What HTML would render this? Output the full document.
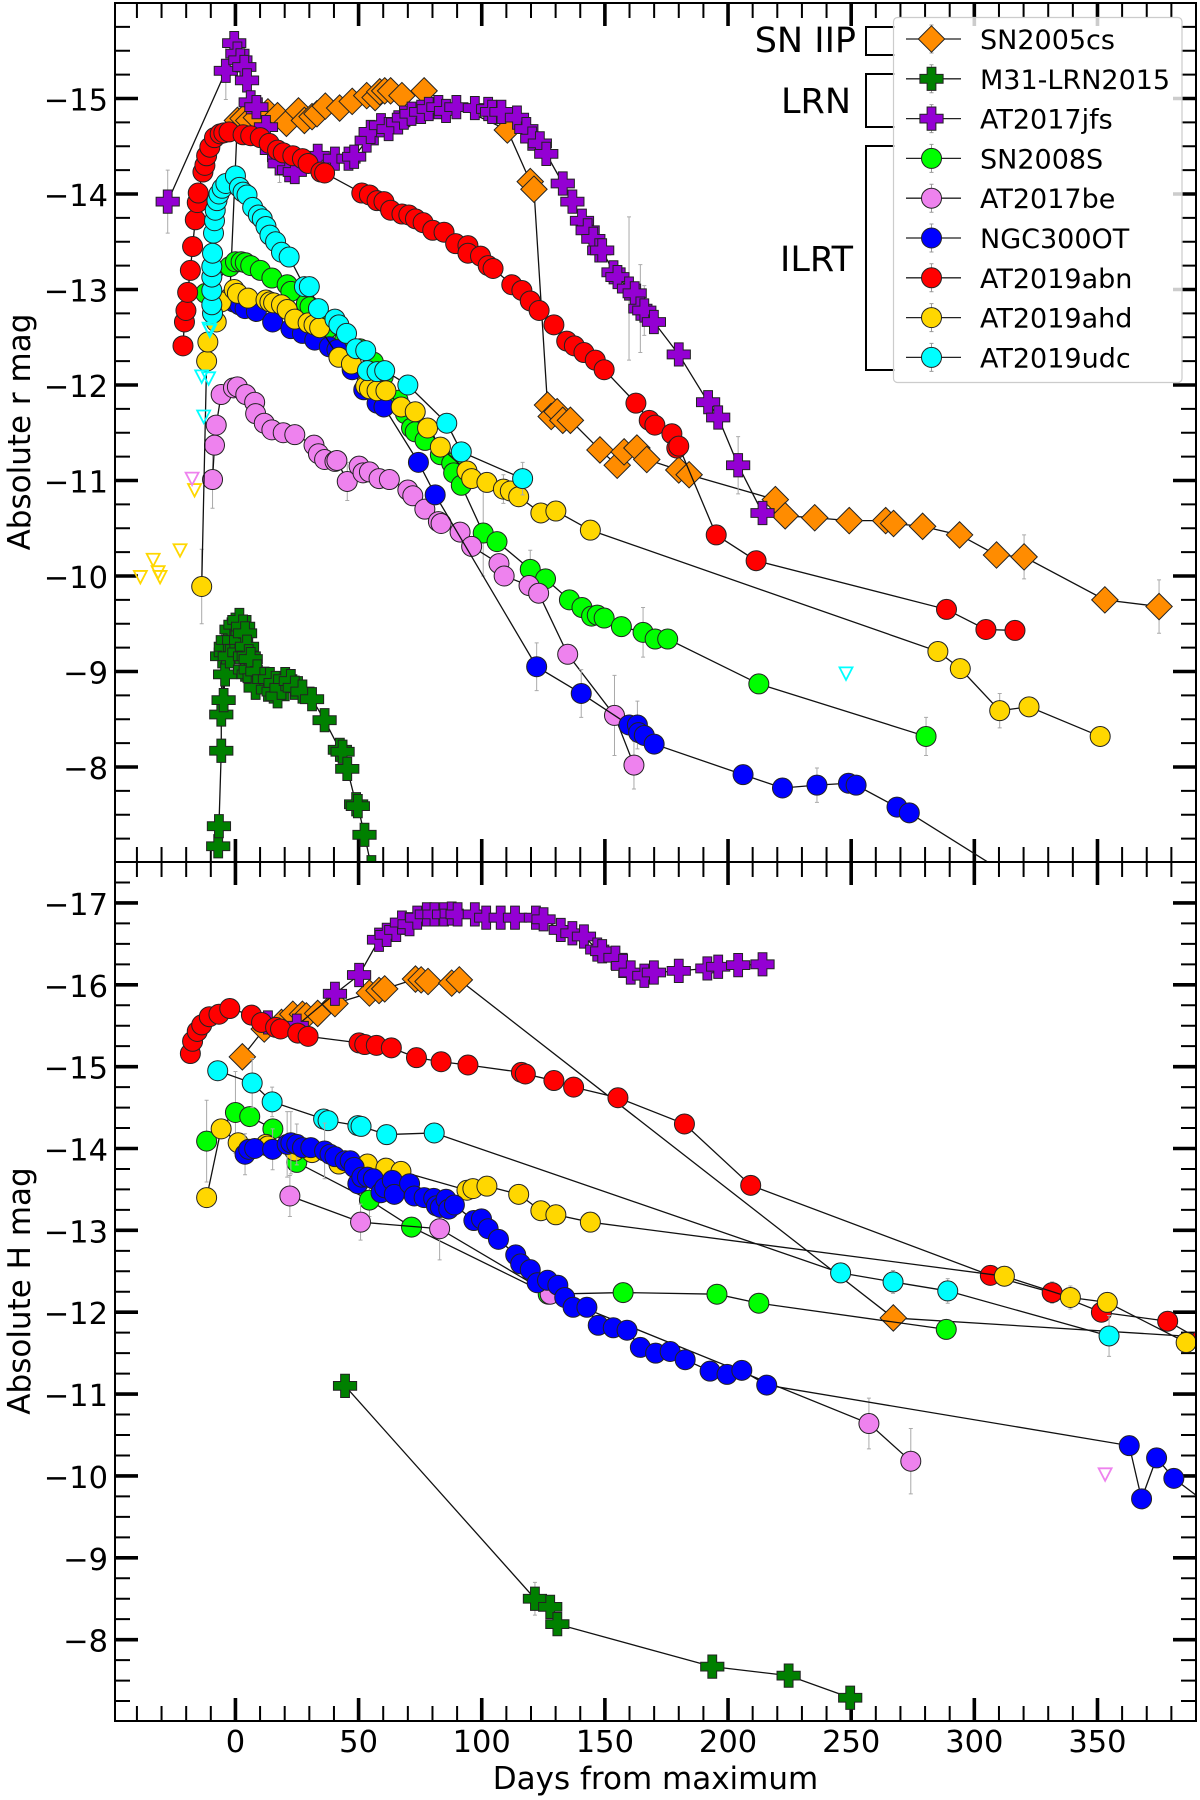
<!DOCTYPE html>
<html lang="en">
<head>
<meta charset="utf-8">
<title>Absolute r and H light curves</title>
<style>
html,body{margin:0;padding:0;background:#fff;width:1200px;height:1800px;overflow:hidden}
svg{display:block}
text{font-family:"DejaVu Sans","Liberation Sans",sans-serif;fill:#000}
</style>
</head>
<body>
<svg id="chart" xmlns="http://www.w3.org/2000/svg" width="1200" height="1800" viewBox="0 0 1200 1800">
<defs>
<clipPath id="clip-r"><rect x="115" y="3" width="1081" height="859"/></clipPath>
<clipPath id="clip-h"><rect x="115" y="862" width="1081" height="859"/></clipPath>
</defs>
<g id="axes-r-ticks"></g>
<g id="axes-h-ticks"></g>
<g id="series-r" clip-path="url(#clip-r)"></g>
<g id="series-h" clip-path="url(#clip-h)"></g>
<rect x="115" y="3" width="1081" height="859" fill="none" stroke="#000" stroke-width="2"/>
<rect x="115" y="862" width="1081" height="859" fill="none" stroke="#000" stroke-width="2"/>
<text x="30" y="432" transform="rotate(-90 30 432)" text-anchor="middle" font-size="31">Absolute r mag</text>
<text x="30" y="1291" transform="rotate(-90 30 1291)" text-anchor="middle" font-size="31">Absolute H mag</text>
<text x="655.5" y="1789" text-anchor="middle" font-size="31">Days from maximum</text>
<text x="856" y="52" text-anchor="end" font-size="35">SN IIP</text>
<text x="851" y="113" text-anchor="end" font-size="35">LRN</text>
<text x="853" y="271" text-anchor="end" font-size="35">ILRT</text>
<path d="M895 27H866V55H895" fill="none" stroke="#000" stroke-width="2"/>
<path d="M895 74H866V127H895" fill="none" stroke="#000" stroke-width="2"/>
<path d="M895 146H866V370H895" fill="none" stroke="#000" stroke-width="2"/>
<g id="legend"></g>
</svg>
<script>
// ---- tick values ----
const xMajorTicks = [0,50,100,150,200,250,300,350];
const xMinorTicks = [-40,-30,-20,-10,10,20,30,40,60,70,80,90,110,120,130,140,160,170,180,190,210,220,230,240,260,270,280,290,310,320,330,340,360,370,380];
const rMajorTicks = [-15,-14,-13,-12,-11,-10,-9,-8];
const rMinorTicks = [-15.75,-15.5,-15.25,-14.75,-14.5,-14.25,-13.75,-13.5,-13.25,-12.75,-12.5,-12.25,-11.75,-11.5,-11.25,-10.75,-10.5,-10.25,-9.75,-9.5,-9.25,-8.75,-8.5,-8.25,-7.75,-7.5,-7.25];
const hMajorTicks = [-17,-16,-15,-14,-13,-12,-11,-10,-9,-8];
const hMinorTicks = [-17.25,-16.75,-16.5,-16.25,-15.75,-15.5,-15.25,-14.75,-14.5,-14.25,-13.75,-13.5,-13.25,-12.75,-12.5,-12.25,-11.75,-11.5,-11.25,-10.75,-10.5,-10.25,-9.75,-9.5,-9.25,-8.75,-8.5,-8.25,-7.75,-7.5,-7.25];
const legendLabels = ["SN2005cs","M31-LRN2015","AT2017jfs","SN2008S","AT2017be","NGC300OT","AT2019abn","AT2019ahd","AT2019udc"];

// ---- r band data ----
const rDaysSN2005cs = [-2.3,0.8,3.1,5.4,8.5,13.2,17.1,20.7,25.6,28,31.1,33.1,36.5,42.3,47.4,53.3,56.7,58.6,60.6,63,67.6,76.6,110.4,119.7,121.2,126.7,128.2,130.6,132.9,136,148,155,157.8,163,167,180,184.2,219.2,223.2,235.2,249.2,264,267.2,279,294,309,320.2,353,375];
const rMagsSN2005cs = [-12.92,-14.77,-14.79,-14.77,-14.8,-14.86,-14.82,-14.74,-14.87,-14.77,-14.81,-14.84,-14.92,-14.9,-14.97,-15.03,-15.01,-15.07,-15.08,-15.08,-15.03,-15.08,-14.67,-14.13,-14.05,-11.79,-11.67,-11.72,-11.63,-11.63,-11.32,-11.16,-11.3,-11.34,-11.22,-11.11,-11.06,-10.8,-10.63,-10.61,-10.58,-10.58,-10.55,-10.52,-10.43,-10.22,-10.2,-9.75,-9.68];
const rDaysM31 = [-7,-6.7,-5.75,-5.75,-5.4,-4.8,-4.2,-3.9,-3.9,-3.1,-2.3,-1.6,-0.5,0,1.6,1.6,2.3,3.1,3.9,3.9,3.9,4.7,5.4,5.4,6.2,6.2,7.8,8.2,8.9,11.7,13.2,14,15.5,16.3,17.1,18.7,20.2,22.5,24.1,27.2,31.1,36.2,42.4,43.5,45.4,49,49.7,52.4,55.2];
const rMagsM31 = [-7.17,-7.38,-8.17,-8.55,-9.16,-8.7,-8.97,-9.2,-9.26,-9.33,-9.16,-9.44,-9.33,-9.49,-9.54,-9.2,-9.33,-9.47,-9.4,-9.16,-9.02,-9.26,-9.16,-8.97,-9.02,-9.13,-8.93,-8.83,-9,-8.92,-8.81,-8.92,-8.79,-8.88,-8.74,-8.83,-8.92,-8.9,-8.83,-8.79,-8.71,-8.49,-8.18,-8.16,-7.98,-7.61,-7.59,-7.29,-6.95];
const rDaysJfs = [-27.5,-3.9,-0.5,0.8,2,3.6,4.7,6.2,8.5,12.4,14.8,17.9,21.8,24.1,33.4,40.4,45.9,48.2,53.3,54.9,59.1,62.2,66.1,68.4,71.5,75.4,78.5,82.4,85.5,89.7,97.2,102.6,104.2,108,114.3,118.1,120.5,123.6,126.2,132.9,136.8,140.7,143,145.3,147.7,148.9,153.5,155.1,159.8,162.1,164.4,166,169.9,180,191.9,196,204.1,214];
const rMagsJfs = [-13.92,-15.29,-15.58,-15.47,-15.4,-15.33,-15.19,-14.96,-14.91,-14.7,-14.46,-14.32,-14.25,-14.23,-14.4,-14.37,-14.37,-14.39,-14.56,-14.65,-14.72,-14.68,-14.75,-14.8,-14.84,-14.86,-14.89,-14.91,-14.87,-14.91,-14.9,-14.89,-14.86,-14.86,-14.8,-14.68,-14.58,-14.53,-14.42,-14.11,-13.92,-13.72,-13.62,-13.53,-13.41,-13.41,-13.18,-13.13,-13.01,-12.96,-12.8,-12.78,-12.66,-12.32,-11.82,-11.66,-11.16,-10.66];
const rDays08S = [-12.1,-2.3,0,2.3,4,6.2,10.1,14.8,21,22.5,28.8,30.3,35,37.3,44.3,50.5,56,60,66,69,71.5,73,77,83.2,87.8,88.6,91.7,100.6,106.2,119.7,125.9,135.6,140.7,144.6,146.9,149.7,156.7,165.5,170.4,175.5,212.5,280.4];
const rMags08S = [-12.96,-13.24,-13.29,-13.29,-13.28,-13.25,-13.2,-13.12,-13.05,-12.98,-12.85,-12.82,-12.68,-12.59,-12.47,-12.38,-12.24,-12.09,-11.84,-11.7,-11.55,-11.51,-11.42,-11.27,-11.18,-11.08,-10.95,-10.45,-10.36,-10.07,-9.97,-9.75,-9.67,-9.58,-9.59,-9.56,-9.47,-9.41,-9.34,-9.34,-8.87,-8.32];
const rDays17be = [-9.3,-8.5,-7.8,-5.8,-0.8,0.8,4.2,7.8,8.2,11.7,14.8,19.4,24.1,31.9,33.7,36.2,40.4,41.2,45.4,50.2,51.8,54.4,58.3,62.5,70,72,76.9,82.4,83.5,91.2,95.9,107,109.1,119.2,123.1,134.9,153.9,161.8];
const rMags17be = [-11.01,-11.37,-11.58,-11.9,-11.97,-11.98,-11.9,-11.82,-11.7,-11.6,-11.53,-11.5,-11.48,-11.37,-11.28,-11.22,-11.2,-11.21,-10.99,-11.15,-11.08,-11.09,-11.02,-11.01,-10.9,-10.84,-10.7,-10.57,-10.55,-10.46,-10.31,-10.13,-10,-9.9,-9.82,-9.18,-8.54,-8.02];
const rDaysNGC = [-0.8,1.6,3.9,8.5,15.1,22.5,27.2,32.2,38.1,41.2,47.4,52.1,57.5,60.3,74.3,81.1,122.3,140.4,159.8,163.2,163.7,166,170,206.1,222.1,236.1,248.9,252,268.6,273.6,320];
const rMagsNGC = [-12.87,-12.84,-12.8,-12.77,-12.66,-12.59,-12.54,-12.47,-12.4,-12.37,-12.16,-11.95,-11.81,-11.77,-11.19,-10.85,-9.05,-8.77,-8.44,-8.44,-8.36,-8.33,-8.24,-7.92,-7.78,-7.81,-7.83,-7.81,-7.58,-7.52,-6.77];
const rDaysAbn = [-21.3,-20.7,-20.1,-19.4,-18.3,-17.4,-16.3,-15.5,-15.1,-13.2,-12.4,-11.7,-10.4,-8.5,-6.2,-4.7,-2.6,3.1,6.2,10.1,13.7,17.1,19.4,23.3,27.2,29.5,34.7,36.2,51.3,54.4,57.5,60.3,63,67.6,70.4,73.1,76.2,80.1,84.7,89.4,94.4,94.4,99.5,102.6,104.6,112.2,116.3,119.7,123.3,129.3,134.5,137.6,141.5,146.1,149.7,162.6,168,170.3,177.2,179.2,180,195.2,211.4,288.7,304.7,316.5];
const rMagsAbn = [-12.41,-12.66,-12.78,-12.97,-13.2,-13.45,-13.73,-13.91,-14.01,-14.23,-14.3,-14.4,-14.49,-14.59,-14.63,-14.64,-14.65,-14.62,-14.61,-14.59,-14.53,-14.46,-14.43,-14.4,-14.37,-14.32,-14.23,-14.22,-14.01,-13.99,-13.93,-13.92,-13.83,-13.79,-13.78,-13.74,-13.7,-13.62,-13.6,-13.48,-13.46,-13.38,-13.35,-13.25,-13.22,-13.05,-12.99,-12.88,-12.78,-12.63,-12.46,-12.41,-12.34,-12.26,-12.16,-11.81,-11.63,-11.58,-11.49,-11.34,-11.36,-10.43,-10.16,-9.65,-9.44,-9.43];
const rDaysAhd = [-13.7,-11.7,-11.2,-7.8,-5.8,-0.5,0.8,5.1,12.4,14,15.5,18.7,21,24.1,29.5,31.9,34.2,42,47.1,52.9,54.4,57.5,61.1,67.3,73,78,83.2,94,95.9,102.1,108.8,111.6,115,124,130.1,144.1,285.2,294.3,310.3,322.2,351.1];
const rMagsAhd = [-9.89,-12.25,-12.45,-12.66,-12.87,-13,-12.96,-12.91,-12.89,-12.87,-12.86,-12.84,-12.79,-12.69,-12.65,-12.63,-12.6,-12.29,-12.22,-11.99,-11.96,-11.94,-11.94,-11.77,-11.72,-11.55,-11.35,-11.1,-11.02,-10.98,-10.91,-10.89,-10.83,-10.66,-10.68,-10.48,-9.21,-9.03,-8.59,-8.63,-8.32];
const rDaysUdc = [-9.3,-9.6,-9.6,-9.6,-9.6,-9.3,-8.9,-8.5,-8.2,-7.5,-6.7,-5.4,-3.9,0,1.6,3.1,4.7,7,9.3,10.9,12.4,14,16.3,18.7,21.8,28,30,33.7,40.4,42,45.1,49,52.9,53.6,57.5,60.6,70,85.8,91.7,116.6];
const rMagsUdc = [-12.75,-12.84,-12.99,-13.13,-13.24,-13.38,-13.59,-13.72,-13.83,-13.93,-14,-14.06,-14.11,-14.19,-14.07,-14.02,-13.99,-13.86,-13.78,-13.74,-13.66,-13.57,-13.5,-13.39,-13.34,-13.03,-13.03,-12.8,-12.69,-12.63,-12.54,-12.38,-12.36,-12.15,-12.14,-12.15,-12,-11.6,-11.3,-11.02];

// ---- r band error bars (day of the point, half length in mag) ----
const rErrDaysSN2005cs = [320.2,375];
const rErrSizesSN2005cs = [0.23,0.28];
const rErrDaysJfs = [-27.5,-3.9,17.9,160,164.4,166,204.1];
const rErrSizesJfs = [0.33,0.3,0.2,0.75,0.46,0.26,0.3];
const rErrDays08S = [100.6,119.7,165.5,212.5,280.4];
const rErrSizes08S = [0.45,0.2,0.26,0.1,0.2];
const rErrDays17be = [-9.3,45.4,153.9,161.8];
const rErrSizes17be = [0.3,0.2,0.42,0.25];
const rErrDaysNGC = [122.3,140.4,163.2,236.1];
const rErrSizesNGC = [0.25,0.25,0.25,0.18];
const rErrDaysAhd = [-13.7,108.8,310.3,351.1];
const rErrSizesAhd = [0.39,0.15,0.18,0.1];
const rErrDaysUdc = [116.6];
const rErrSizesUdc = [0.17];

// ---- r band upper limits ----
const rLimDaysAhd = [-38.6,-33.4,-31.4,-30.6,-22.5,-16.6];
const rLimMagsAhd = [-9.99,-10.17,-10.04,-9.99,-10.27,-10.9];
const rLimDays17be = [-17.6];
const rLimMags17be = [-11.02];
const rLimDaysUdc = [-10.7,-10.4,-13.7,-10.9,-12.9,247.9];
const rLimMagsUdc = [-12.59,-12.57,-12.09,-12.07,-11.67,-8.98];

// ---- H band data ----
const hDaysSN2005cs = [2.8,11.7,18.7,23.3,27.2,28.8,33.4,40.4,54.4,58.3,60.6,73.1,75.4,78.2,87.8,90.9,267.1,395];
const hMagsSN2005cs = [-15.12,-15.46,-15.54,-15.64,-15.64,-15.62,-15.65,-15.77,-15.9,-15.93,-15.95,-16.07,-16.06,-16.04,-16.02,-16.06,-11.93,-11.69];
const hDaysM31 = [44.5,121.6,127.8,130.7,193.6,224.6,249.6];
const hMagsM31 = [-11.1,-8.5,-8.4,-8.19,-7.67,-7.56,-7.29];
const hDaysJfs = [13.2,24.9,40.4,50.2,58.3,61.4,65.3,67.6,70.7,73.8,77.7,80.8,84.7,87.8,90.2,97.2,101.8,107.7,113.5,122,125.1,132.1,136.8,141.5,146.9,148.9,154.3,157.4,160.5,166,169.9,180,191.6,196,204.1,214];
const hMagsJfs = [-15.54,-15.5,-15.89,-16.12,-16.55,-16.61,-16.67,-16.76,-16.74,-16.82,-16.86,-16.86,-16.86,-16.87,-16.86,-16.86,-16.82,-16.82,-16.82,-16.82,-16.8,-16.67,-16.63,-16.59,-16.43,-16.41,-16.33,-16.23,-16.15,-16.11,-16.15,-16.17,-16.2,-16.22,-16.24,-16.25];
const hDays08S = [-11.7,0,5.8,15.2,24.9,54.4,71.5,127,157.4,195.5,212.5,288.6];
const hMags08S = [-14.09,-14.44,-14.39,-14.24,-13.83,-13.37,-13.04,-12.22,-12.24,-12.22,-12.11,-11.79];
const hDays17be = [22.1,50.8,82.9,127.8,257.2,274.2];
const hMags17be = [-13.42,-13.1,-13.02,-12.22,-10.64,-10.18];
const hDaysNGC = [3.9,5.4,7.8,15.1,21,22.5,24.9,27.2,30.6,36.2,38.4,40.4,44.5,46.6,48.2,49.7,51.3,53.6,56,59.1,60.6,63.7,64.5,70.7,72.6,76.6,80.5,81.6,83.2,85.5,86.6,88.9,96.8,99.9,102.6,106.8,113.8,115.8,119.7,122.5,126.7,130.9,133.7,137.1,142.7,147.3,153.4,159,164.4,170.6,176.5,182.6,192.7,199.6,205.6,215.7,362.9,367.9,374,381,395];
const hMagsNGC = [-13.93,-13.99,-14,-13.99,-14.05,-14.07,-14.05,-14.01,-14.01,-13.97,-13.93,-13.9,-13.85,-13.85,-13.77,-13.57,-13.65,-13.65,-13.63,-13.46,-13.52,-13.61,-13.44,-13.57,-13.42,-13.4,-13.39,-13.3,-13.28,-13.38,-13.26,-13.31,-13.12,-13.14,-13.02,-12.89,-12.7,-12.59,-12.52,-12.36,-12.39,-12.33,-12.18,-12.06,-12.06,-11.84,-11.81,-11.78,-11.57,-11.5,-11.52,-11.42,-11.28,-11.24,-11.29,-11.11,-10.37,-9.72,-10.22,-9.97,-9.65];
const hDaysAbn = [-18.3,-17.4,-15.5,-13.7,-10.6,-6.7,-2.3,6.5,10.6,16.3,18.3,25.3,29.5,50.2,52.5,57.2,63.3,73.5,83.5,94.4,116.1,117.7,129.3,137.3,155.3,182.3,209.2,306.5,331.6,351.6,378.5,392];
const hMagsAbn = [-15.16,-15.31,-15.43,-15.51,-15.61,-15.64,-15.71,-15.63,-15.54,-15.48,-15.46,-15.41,-15.37,-15.29,-15.27,-15.26,-15.23,-15.11,-15.06,-15.02,-14.93,-14.91,-14.83,-14.75,-14.62,-14.3,-13.55,-12.45,-12.24,-12,-11.89,-11.66];
const hDaysAhd = [-11.7,-5.8,1.1,5.4,12.4,13.2,24.1,31.1,42,53.6,61.1,67.2,94,96.4,102.1,115,124,130.1,144.1,312.2,339,354,386];
const hMagsAhd = [-13.4,-14.24,-14.07,-13.99,-14.05,-14.03,-13.97,-13.95,-13.81,-13.81,-13.76,-13.72,-13.49,-13.51,-13.54,-13.44,-13.24,-13.19,-13.1,-12.44,-12.18,-12.12,-11.63];
const hDaysUdc = [-7.2,6.8,14.9,35.8,37.6,49.7,51,61.4,80.7,245.7,267,289.2,354.7];
const hMagsUdc = [-14.95,-14.8,-14.57,-14.36,-14.34,-14.28,-14.27,-14.17,-14.19,-12.48,-12.37,-12.26,-11.71];

// ---- H band error bars ----
const hErrDaysM31 = [121.6];
const hErrSizesM31 = [0.2];
const hErrDays08S = [-11.7,0,54.4];
const hErrSizes08S = [0.5,0.5,0.2];
const hErrDays17be = [22.1,50.8,82.9,257.2,274.2];
const hErrSizes17be = [0.25,0.22,0.38,0.31,0.4];
const hErrDaysNGC = [3.9,15.1,21,22.5,24.9,36.2];
const hErrSizesNGC = [0.25,0.25,0.4,0.38,0.25,0.34];
const hErrDaysAbn = [331.6];
const hErrSizesAbn = [0.13];
const hErrDaysAhd = [339,354];
const hErrSizesAhd = [0.14,0.1];
const hErrDaysUdc = [6.8,14.9,267,289.2,354.7];
const hErrSizesUdc = [0.3,0.18,0.14,0.15,0.25];

// ---- H band upper limits ----
const hLimDays17be = [353.1];
const hLimMags17be = [-10.02];

// ---- axis functions ----
const xLim = [-48.9, 390];
const rLim = [-16, -7];
const hLim = [-17.5, -7];
function xPos(d){ return 115 + (d - xLim[0]) / (xLim[1] - xLim[0]) * 1081; }
function rPos(m){ return 3 + (m - rLim[0]) / (rLim[1] - rLim[0]) * 859.5; }
function hPos(m){ return 862 + (m - hLim[0]) / (hLim[1] - hLim[0]) * 859.5; }

const NS = 'http://www.w3.org/2000/svg';
function make(tag, attrs, parent){
  const el = document.createElementNS(NS, tag);
  for (const k in attrs) el.setAttribute(k, attrs[k]);
  parent.appendChild(el);
  return el;
}
function markerPoints(kind){
  if (kind === 'diamond') return '0,-13.2 13.2,0 0,13.2 -13.2,0';
  return '-4.4,-11.6 4.4,-11.6 4.4,-4.4 11.6,-4.4 11.6,4.4 4.4,4.4 4.4,11.6 -4.4,11.6 -4.4,4.4 -11.6,4.4 -11.6,-4.4 -4.4,-4.4';
}
function drawMarker(parent, kind, color, x, y){
  if (kind === 'circle'){
    return make('circle', {cx:x, cy:y, r:10, fill:color, stroke:'#222', 'stroke-width':1}, parent);
  }
  return make('polygon', {points:markerPoints(kind), transform:'translate('+x+' '+y+')', fill:color, stroke:'#222', 'stroke-width':1}, parent);
}

function drawSeries(parent, key, kind, color, days, mags, errDays, errSizes, yPos){
  const g = make('g', {}, parent);
  
  
  (errDays || []).forEach(function(day, i){
    let best = 0;
    days.forEach(function(d, j){ if (Math.abs(d - day) < Math.abs(days[best] - day)) best = j; });
    const x = xPos(days[best]);
    const y1 = yPos(mags[best] - errSizes[i]);
    const y2 = yPos(mags[best] + errSizes[i]);
    const bar = make('path', {d:'M'+x+' '+y1+'V'+y2+'M'+(x-2)+' '+y1+'H'+(x+2)+'M'+(x-2)+' '+y2+'H'+(x+2), fill:'none', stroke:'#aaa', 'stroke-width':1}, g);
    
    
  });
  const line = make('polyline', {points:days.map(function(d, i){ return xPos(d) + ',' + yPos(mags[i]); }).join(' '), fill:'none', stroke:'#111', 'stroke-width':1.3}, g);
  
  
  days.forEach(function(d, i){
    const m = drawMarker(g, kind, color, xPos(d), yPos(mags[i]));
    
    
  });
}
function drawLimits(parent, key, color, days, mags, yPos){
  days.forEach(function(d, i){
    const t = make('polygon', {points:'-6.5,-6 6.5,-6 0,6.5', transform:'translate('+xPos(d)+' '+yPos(mags[i])+')', fill:'none', stroke:color, 'stroke-width':1.8}, parent);
    
    
  });
}

// ---- ticks ----
function drawTicks(gid, prefix, majors, minors, yPos, top, bottom){
  const g = document.getElementById(gid);
  function vtick(d, len, w){
    const x = xPos(d);
    const t = make('path', {d:'M'+x+' '+top+'v'+len+'M'+x+' '+bottom+'v'+(-len), stroke:'#000', 'stroke-width':w, fill:'none'}, g);
    
    
  }
  function htick(m, len, w){
    const y = yPos(m);
    const t = make('path', {d:'M115 '+y+'h'+len+'M1196 '+y+'h'+(-len), stroke:'#000', 'stroke-width':w, fill:'none'}, g);
    
    
  }
  xMajorTicks.forEach(function(d){ vtick(d, 23, 3.6); });
  xMinorTicks.forEach(function(d){ vtick(d, 15, 2); });
  majors.forEach(function(m){
    htick(m, 23, 3.6);
    const t = make('text', {x:108, y:yPos(m)+12, 'text-anchor':'end', 'font-size':30.5}, g);
    t.textContent = '\u2212' + Math.abs(m);
    
    
  });
  minors.forEach(function(m){ htick(m, 15, 2); });
}
drawTicks('axes-r-ticks', 'r-panel', rMajorTicks, rMinorTicks, rPos, 3, 862);
drawTicks('axes-h-ticks', 'h-panel', hMajorTicks, hMinorTicks, hPos, 862, 1721);
xMajorTicks.forEach(function(d){
  const t = make('text', {x:xPos(d), y:1752, 'text-anchor':'middle', 'font-size':30.5}, document.getElementById('axes-h-ticks'));
  t.textContent = String(d);
  
  
});

// ---- series, r panel ----
const sr = document.getElementById('series-r');
drawSeries(sr,'sn2005cs','diamond','#ff8c00',rDaysSN2005cs,rMagsSN2005cs,rErrDaysSN2005cs,rErrSizesSN2005cs,rPos);
drawSeries(sr,'m31-lrn2015','plus','#008000',rDaysM31,rMagsM31,[],[],rPos);
drawSeries(sr,'at2017jfs','plus','#9400d3',rDaysJfs,rMagsJfs,rErrDaysJfs,rErrSizesJfs,rPos);
drawSeries(sr,'sn2008s','circle','#00ff00',rDays08S,rMags08S,rErrDays08S,rErrSizes08S,rPos);
drawSeries(sr,'at2017be','circle','#ee82ee',rDays17be,rMags17be,rErrDays17be,rErrSizes17be,rPos);
drawSeries(sr,'ngc300ot','circle','#0000ff',rDaysNGC,rMagsNGC,rErrDaysNGC,rErrSizesNGC,rPos);
drawSeries(sr,'at2019abn','circle','#ff0000',rDaysAbn,rMagsAbn,[],[],rPos);
drawSeries(sr,'at2019ahd','circle','#ffd700',rDaysAhd,rMagsAhd,rErrDaysAhd,rErrSizesAhd,rPos);
drawSeries(sr,'at2019udc','circle','#00ffff',rDaysUdc,rMagsUdc,rErrDaysUdc,rErrSizesUdc,rPos);
drawLimits(sr,'at2019ahd','#ffd700',rLimDaysAhd,rLimMagsAhd,rPos);
drawLimits(sr,'at2017be','#ee82ee',rLimDays17be,rLimMags17be,rPos);
drawLimits(sr,'at2019udc','#00ffff',rLimDaysUdc,rLimMagsUdc,rPos);

// ---- series, H panel ----
const sh = document.getElementById('series-h');
drawSeries(sh,'h-sn2005cs','diamond','#ff8c00',hDaysSN2005cs,hMagsSN2005cs,[],[],hPos);
drawSeries(sh,'h-m31-lrn2015','plus','#008000',hDaysM31,hMagsM31,hErrDaysM31,hErrSizesM31,hPos);
drawSeries(sh,'h-at2017jfs','plus','#9400d3',hDaysJfs,hMagsJfs,[],[],hPos);
drawSeries(sh,'h-sn2008s','circle','#00ff00',hDays08S,hMags08S,hErrDays08S,hErrSizes08S,hPos);
drawSeries(sh,'h-at2017be','circle','#ee82ee',hDays17be,hMags17be,hErrDays17be,hErrSizes17be,hPos);
drawSeries(sh,'h-at2019abn','circle','#ff0000',hDaysAbn,hMagsAbn,hErrDaysAbn,hErrSizesAbn,hPos);
drawSeries(sh,'h-at2019ahd','circle','#ffd700',hDaysAhd,hMagsAhd,hErrDaysAhd,hErrSizesAhd,hPos);
drawSeries(sh,'h-at2019udc','circle','#00ffff',hDaysUdc,hMagsUdc,hErrDaysUdc,hErrSizesUdc,hPos);
drawSeries(sh,'h-ngc300ot','circle','#0000ff',hDaysNGC,hMagsNGC,hErrDaysNGC,hErrSizesNGC,hPos);
drawLimits(sh,'h-at2017be','#ee82ee',hLimDays17be,hLimMags17be,hPos);

// ---- legend ----
const legendKinds = ['diamond','plus','plus','circle','circle','circle','circle','circle','circle'];
const legendColors = ['#ff8c00','#008000','#9400d3','#00ff00','#ee82ee','#0000ff','#ff0000','#ffd700','#00ffff'];
const lg = document.getElementById('legend');
const legendBox = make('rect', {x:893.5, y:17.5, width:288.5, height:365, rx:4, fill:'#fff', 'fill-opacity':0.8, stroke:'#ccc', 'stroke-width':1.2}, lg);


legendLabels.forEach(function(label, i){
  const y = 39 + i * 39.8;
  const entry = make('g', {}, lg);
  
  
  make('path', {d:'M931.5 '+(y-14)+'V'+(y+14)+'M929.5 '+(y-14)+'h4M929.5 '+(y+14)+'h4', stroke:'#999', 'stroke-width':1, fill:'none'}, entry);
  make('path', {d:'M906 '+y+'H961', stroke:'#222', 'stroke-width':1.3, fill:'none'}, entry);
  drawMarker(entry, legendKinds[i], legendColors[i], 931.5, y);
  const t = make('text', {x:980, y:y+10, 'font-size':27}, entry);
  t.textContent = label;
});
</script>
</body>
</html>
